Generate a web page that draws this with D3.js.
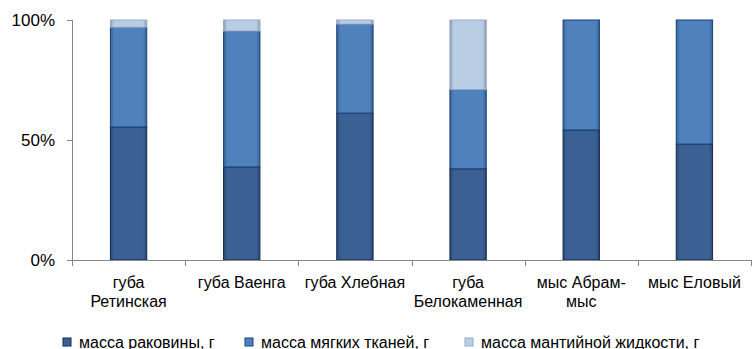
<!DOCTYPE html>
<meta charset="utf-8">
<style>
  body { margin: 0; background: #fff; }
  text { font-family: "Liberation Sans", Arial, sans-serif; fill: #000; }
</style>
<body>
<svg id="chart" width="753" height="349"></svg>
<script src="https://d3js.org/d3.v7.min.js"></script>
<script>
// categories and percentage shares
var categories = [["губа", "Ретинская"], ["губа Ваенга"], ["губа Хлебная"], ["губа", "Белокаменная"], ["мыс Абрам-", "мыс"], ["мыс Еловый"]];
var shell = [55.4, 38.8, 61.2, 38, 54.2, 48.3];
var soft = [41.6, 56.6, 37.1, 33, 45.8, 51.7];
var mantle = [3, 4.6, 1.7, 29, 0, 0];
var seriesNames = ["масса раковины, г", "масса мягких тканей, г", "масса мантийной жидкости, г"];
var yTicks = [0, 50, 100];

var fills = ["#3b6094", "#4f81bd", "#b9cde5"];
var strokes = ["#0f2a55", "#17427c", "#98abc6"];

var svg = d3.select("#chart");
var mLeft = 72, mRight = 751, mTop = 20, mBottom = 260;

var x = d3.scaleBand().domain(d3.range(categories.length)).range([mLeft, mRight]).paddingInner(0.67).paddingOuter(0.335);
var y = d3.scaleLinear().domain([0, 100]).range([mBottom, mTop]);

var rows = categories.map(function(c, i) { return {i: i, s0: shell[i], s1: soft[i], s2: mantle[i]}; });
var stack = d3.stack().keys(["s0", "s1", "s2"])(rows);

// gradient per series, darker at the edges
var defs = svg.append("defs");
fills.forEach(function(f, k) {
  var g = defs.append("linearGradient").attr("id", "g" + k).attr("x1", 0).attr("x2", 1).attr("y1", 0).attr("y2", 0);
  var dark = d3.color(f).darker(0.8);
  g.append("stop").attr("offset", "0%").attr("stop-color", dark);
  g.append("stop").attr("offset", "10%").attr("stop-color", f);
  g.append("stop").attr("offset", "90%").attr("stop-color", f);
  g.append("stop").attr("offset", "100%").attr("stop-color", dark);
});

svg.append("g").selectAll("g").data(stack).enter().append("g")
  .each(function(layer, k) {
    d3.select(this).selectAll("rect").data(layer.filter(function(d) { return d[1] - d[0] > 0; })).enter().append("rect")
      .attr("x", function(d) { return x(d.data.i) + 0.5; })
      .attr("width", x.bandwidth() - 1)
      .attr("y", function(d) { return y(d[1]); })
      .attr("height", function(d) { return y(d[0]) - y(d[1]); })
      .attr("fill", "url(#g" + k + ")")
      .attr("stroke", strokes[k])
      .attr("stroke-width", 1);
  });

// y axis
var ya = svg.append("g");
ya.append("line").attr("x1", mLeft + 0.5).attr("x2", mLeft + 0.5).attr("y1", mTop).attr("y2", mBottom).attr("stroke", "#888");
ya.selectAll("line.t").data(yTicks).enter().append("line")
  .attr("x1", mLeft - 5).attr("x2", mLeft).attr("y1", function(d) { return Math.round(y(d)) + 0.5; }).attr("y2", function(d) { return Math.round(y(d)) + 0.5; })
  .attr("stroke", "#888");
ya.selectAll("text").data(yTicks).enter().append("text")
  .attr("x", 55).attr("y", function(d) { return y(d) + 6; })
  .attr("text-anchor", "end").attr("font-size", 17)
  .text(function(d) { return d + "%"; });

// x axis
var step = x.step();
var xa = svg.append("g");
xa.append("line").attr("x1", mLeft - 5).attr("x2", mRight).attr("y1", mBottom + 0.5).attr("y2", mBottom + 0.5).attr("stroke", "#888");
xa.selectAll("line.t").data(d3.range(categories.length + 1)).enter().append("line")
  .attr("x1", function(i) { return Math.round(mLeft + i * step) + 0.5; })
  .attr("x2", function(i) { return Math.round(mLeft + i * step) + 0.5; })
  .attr("y1", mBottom).attr("y2", mBottom + 6).attr("stroke", "#888");
xa.selectAll("text").data(categories).enter().append("text")
  .attr("text-anchor", "middle").attr("font-size", 16)
  .each(function(lines, i) {
    var t = d3.select(this);
    lines.forEach(function(l, j) {
      t.append("tspan").attr("x", x(i) + x.bandwidth() / 2).attr("y", 288 + j * 19).text(l);
    });
  });

// legend
var legX = [63, 245, 465];
var leg = svg.append("g").selectAll("g").data(seriesNames).enter().append("g")
  .attr("transform", function(d, k) { return "translate(" + legX[k] + ",338)"; });
leg.append("rect").attr("width", 8).attr("height", 8)
  .attr("fill", function(d, k) { return fills[k]; })
  .attr("stroke", function(d, k) { return strokes[k]; });
leg.append("text").attr("x", 16).attr("y", 9.5).attr("font-size", 16).text(function(d) { return d; });
</script>
</body>
